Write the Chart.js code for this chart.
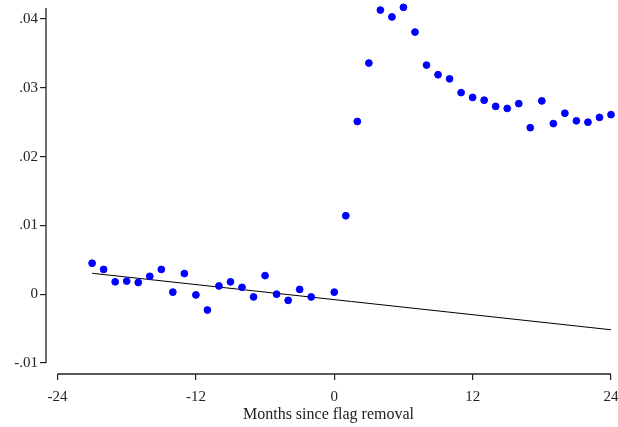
<!DOCTYPE html>
<html>
<head>
<meta charset="utf-8">
<script src="https://cdn.jsdelivr.net/npm/chart.js@4/dist/chart.umd.min.js"></script>
<style>
  html, body { margin: 0; padding: 0; background: #fff; }
  #wrap { width: 618px; height: 427px; }
</style>
</head>
<body>
<div id="wrap"><canvas id="chart"></canvas></div>
<script>
// months relative to flag removal (month -1 is the reference period, not shown)
const months = [-21, -20, -19, -18, -17, -16, -15, -14, -13, -12, -11, -10, -9, -8, -7, -6, -5, -4, -3, -2,
  0, 1, 2, 3, 4, 5, 6, 7, 8, 9, 10, 11, 12, 13, 14, 15, 16, 17, 18, 19, 20, 21, 22, 23, 24];
const effects = [0.0045, 0.0036, 0.0018, 0.0019, 0.0017, 0.0026, 0.0036, 0.0003, 0.0030, -0.0001, -0.0023,
  0.0012, 0.0018, 0.0010, -0.0004, 0.0027, 0.0000, -0.0009, 0.0007, -0.0004,
  0.0003, 0.0114, 0.0251, 0.0336, 0.0413, 0.0403, 0.0417, 0.0381, 0.0333, 0.0319, 0.0313,
  0.0293, 0.0286, 0.0282, 0.0273, 0.0270, 0.0277, 0.0242, 0.0281, 0.0248, 0.0263, 0.0252,
  0.0250, 0.0257, 0.0261];

// pre-trend line
const trendMonths = [-21, 24];
const trendValues = [0.00304, -0.00517];

const xTicks = [-24, -12, 0, 12, 24];
const yTicks = [-0.01, 0, 0.01, 0.02, 0.03, 0.04];
const yTickLabels = ['-.01', '0', '.01', '.02', '.03', '.04'];
const xTitle = 'Months since flag removal';

const FONT = "'Liberation Serif', 'DejaVu Serif', serif";

// Stata-style detached axis lines
const axisLines = {
  id: 'axisLines',
  afterDraw(chart) {
    const { ctx, chartArea, scales } = chart;
    ctx.save();
    ctx.strokeStyle = '#222';
    ctx.lineWidth = 1.3;
    ctx.beginPath();
    ctx.moveTo(chartArea.left, chartArea.top);
    ctx.lineTo(chartArea.left, scales.y.getPixelForValue(yTicks[0]));
    ctx.moveTo(scales.x.getPixelForValue(xTicks[0]), chartArea.bottom);
    ctx.lineTo(scales.x.getPixelForValue(xTicks[xTicks.length - 1]), chartArea.bottom);
    ctx.stroke();
    ctx.restore();
  }
};

new Chart(document.getElementById('chart'), {
  type: 'scatter',
  data: {
    datasets: [
      {
        data: months.map((m, i) => ({ x: m, y: effects[i] })),
        backgroundColor: '#0000ff',
        borderColor: '#0000ff',
        pointRadius: 3.4,
        pointHoverRadius: 3.4,
        clip: false
      },
      {
        type: 'line',
        data: trendMonths.map((m, i) => ({ x: m, y: trendValues[i] })),
        borderColor: '#000',
        borderWidth: 1,
        pointRadius: 0,
        fill: false
      }
    ]
  },
  options: {
    responsive: true,
    maintainAspectRatio: false,
    animation: false,
    layout: { padding: { top: 8, right: 7, bottom: 0, left: 0 } },
    plugins: { legend: { display: false }, tooltip: { enabled: false } },
    scales: {
      x: {
        type: 'linear',
        min: -25,
        max: 24,
        afterBuildTicks: s => { s.ticks = xTicks.map(v => ({ value: v })); },
        afterFit: s => { s.height = 53; s.paddingLeft = 0; s.paddingRight = 0; },
        border: { display: false },
        grid: { drawOnChartArea: false, drawTicks: true, tickLength: 6, color: '#222', lineWidth: 1.2 },
        ticks: { color: '#222', font: { family: FONT, size: 15 }, padding: 8, maxRotation: 0 },
        title: { display: true, text: xTitle, color: '#222', font: { family: FONT, size: 16 }, padding: { top: 0, bottom: 3 } }
      },
      y: {
        min: -0.0116,
        max: 0.0416,
        afterBuildTicks: s => { s.ticks = yTicks.map(v => ({ value: v })); },
        afterFit: s => { s.width = 46; s.paddingTop = 0; s.paddingBottom = 0; },
        border: { display: false },
        grid: { drawOnChartArea: false, drawTicks: true, tickLength: 6, color: '#222', lineWidth: 1.2 },
        ticks: {
          color: '#222',
          font: { family: FONT, size: 15 },
          padding: 2,
          callback: v => yTickLabels[yTicks.indexOf(v)]
        }
      }
    }
  },
  plugins: [axisLines]
});
</script>
</body>
</html>
